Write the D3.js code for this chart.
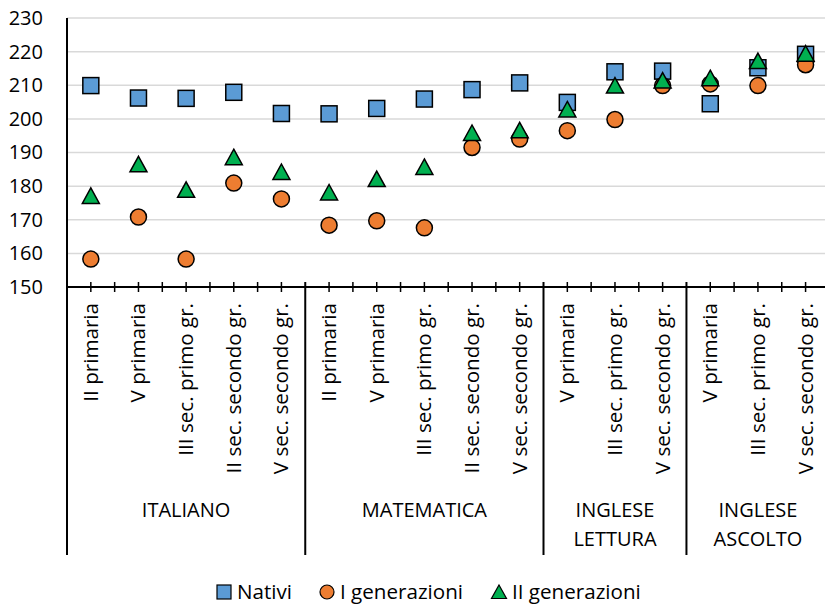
<!DOCTYPE html>
<html>
<head>
<meta charset="utf-8">
<script src="https://cdn.jsdelivr.net/npm/d3@7"></script>
<style>
  html, body { margin: 0; padding: 0; background: #fff; overflow: hidden; }
  svg { display: block; font-family: "Open Sans", Lato, sans-serif; }
</style>
</head>
<body>
<svg id="chart" width="825" height="604"></svg>
<script>
// Grades within each subject group
const categories = [
  "II primaria", "V primaria", "III sec. primo gr.", "II sec. secondo gr.", "V sec. secondo gr.",
  "II primaria", "V primaria", "III sec. primo gr.", "II sec. secondo gr.", "V sec. secondo gr.",
  "V primaria", "III sec. primo gr.", "V sec. secondo gr.",
  "V primaria", "III sec. primo gr.", "V sec. secondo gr."
];
// Subject groups: label lines and number of grades in each
const groupLabels = [["ITALIANO"], ["MATEMATICA"], ["INGLESE", "LETTURA"], ["INGLESE", "ASCOLTO"]];
const groupSizes = [5, 5, 3, 3];

// Average scores by student origin
const nativi = [209.9, 206.2, 206.1, 207.9, 201.6, 201.5, 203.1, 205.9, 208.7, 210.7, 204.9, 214.0, 214.2, 204.5, 215.2, 219.2];
const primaGen = [158.3, 170.8, 158.3, 180.9, 176.2, 168.4, 169.7, 167.6, 191.5, 194.0, 196.5, 199.8, 209.9, 210.4, 209.9, 216.1];
const secondaGen = [177.1, 186.5, 178.9, 188.6, 184.2, 178.1, 182.1, 185.7, 195.8, 196.6, 202.8, 209.9, 211.4, 212.1, 217.2, 219.4];

const yTicks = [150, 160, 170, 180, 190, 200, 210, 220, 230];
const seriesNames = ["Nativi", "I generazioni", "II generazioni"];
const seriesColors = ["#5B9BD5", "#ED7D31", "#00B050"];

const svg = d3.select("#chart");
const W = 825;
const FONT = "'Open Sans', Lato, sans-serif";
const plotLeft = 67, plotTop = 18, plotBottom = 287, catStep = 47.65;
const axisBottomEnd = 555;

const x = d3.scaleBand()
  .domain(d3.range(categories.length))
  .range([plotLeft, plotLeft + catStep * categories.length])
  .padding(0);
const y = d3.scaleLinear().domain([150, 230]).range([plotBottom, plotTop]);

// Horizontal gridlines
svg.append("g")
  .selectAll("line")
  .data(yTicks.filter(t => t > 150))
  .join("line")
  .attr("x1", plotLeft).attr("x2", W)
  .attr("y1", d => y(d)).attr("y2", d => y(d))
  .attr("stroke", "#d9d9d9").attr("stroke-width", 1.5);

// Y axis labels
const yAxis = svg.append("g")
  .attr("transform", `translate(${plotLeft},0)`)
  .call(d3.axisLeft(y).tickValues(yTicks).tickSize(0).tickPadding(24));
yAxis.select(".domain").remove();
yAxis.selectAll("text")
  .attr("font-size", 20).attr("fill", "#000")
  .style("font-family", FONT);

// Vertical axis line extended through category area
svg.append("line")
  .attr("x1", plotLeft).attr("x2", plotLeft)
  .attr("y1", plotTop).attr("y2", axisBottomEnd)
  .attr("stroke", "#000").attr("stroke-width", 2);

// Category axis baseline
svg.append("line")
  .attr("x1", plotLeft).attr("x2", W)
  .attr("y1", plotBottom).attr("y2", plotBottom)
  .attr("stroke", "#000").attr("stroke-width", 2);

// Group boundaries
const groupStarts = [];
let acc = 0;
groupSizes.forEach(n => { groupStarts.push(acc); acc += n; });
const boundaryIdx = new Set(groupStarts.slice(1));

// Minor tick marks between categories
svg.append("g")
  .selectAll("line")
  .data(d3.range(1, categories.length).filter(i => !boundaryIdx.has(i)))
  .join("line")
  .attr("x1", i => x(i)).attr("x2", i => x(i))
  .attr("y1", plotBottom - 5).attr("y2", plotBottom + 5)
  .attr("stroke", "#000").attr("stroke-width", 1.5);

// Tick marks at category centers
svg.append("g")
  .selectAll("line")
  .data(d3.range(categories.length))
  .join("line")
  .attr("x1", i => x(i) + x.bandwidth() / 2).attr("x2", i => x(i) + x.bandwidth() / 2)
  .attr("y1", plotBottom - 5).attr("y2", plotBottom + 5)
  .attr("stroke", "#000").attr("stroke-width", 1.5);

// Long separators between subject groups
svg.append("g")
  .selectAll("line")
  .data([...boundaryIdx])
  .join("line")
  .attr("x1", i => x(i)).attr("x2", i => x(i))
  .attr("y1", plotBottom - 5).attr("y2", axisBottomEnd)
  .attr("stroke", "#000").attr("stroke-width", 2);

// Rotated category labels
svg.append("g")
  .selectAll("text")
  .data(categories)
  .join("text")
  .attr("transform", (d, i) => `translate(${x(i) + x.bandwidth() / 2 + 7},303) rotate(-90)`)
  .attr("text-anchor", "end")
  .attr("font-size", 20.6)
  .attr("fill", "#000")
  .text(d => d);

// Subject group labels
const gl = svg.append("g")
  .selectAll("text")
  .data(groupLabels)
  .join("text")
  .attr("x", (d, i) => x(groupStarts[i]) + groupSizes[i] * catStep / 2)
  .attr("y", 517)
  .attr("text-anchor", "middle")
  .attr("font-size", 20)
  .attr("fill", "#000");
gl.selectAll("tspan")
  .data(d => d)
  .join("tspan")
  .attr("x", function () { return d3.select(this.parentNode).attr("x"); })
  .attr("dy", (d, i) => i === 0 ? 0 : 29)
  .text(d => d);

// Marker shapes
const trianglePath = "M0,-8L8.5,7.5L-8.5,7.5Z";
const cx = i => x(i) + x.bandwidth() / 2;

const marks = svg.append("g");
marks.append("g").selectAll("rect")
  .data(nativi)
  .join("rect")
  .attr("x", (d, i) => cx(i) - 8).attr("y", d => y(d) - 8)
  .attr("width", 16).attr("height", 16)
  .attr("fill", seriesColors[0]).attr("stroke", "#000").attr("stroke-width", 1.5);

marks.append("g").selectAll("circle")
  .data(primaGen)
  .join("circle")
  .attr("cx", (d, i) => cx(i)).attr("cy", d => y(d))
  .attr("r", 8)
  .attr("fill", seriesColors[1]).attr("stroke", "#000").attr("stroke-width", 1.5);

marks.append("g").selectAll("path")
  .data(secondaGen)
  .join("path")
  .attr("transform", (d, i) => `translate(${cx(i)},${y(d)})`)
  .attr("d", trianglePath)
  .attr("fill", seriesColors[2]).attr("stroke", "#000").attr("stroke-width", 1.5);

// Legend
const legendItems = [
  { name: seriesNames[0], x: 217 },
  { name: seriesNames[1], x: 320 },
  { name: seriesNames[2], x: 492 }
];
const lg = svg.append("g");
const ly = 592;
lg.append("rect").attr("x", legendItems[0].x).attr("y", ly - 7).attr("width", 14).attr("height", 14)
  .attr("fill", seriesColors[0]).attr("stroke", "#000").attr("stroke-width", 1.2);
lg.append("circle").attr("cx", legendItems[1].x + 7).attr("cy", ly).attr("r", 7)
  .attr("fill", seriesColors[1]).attr("stroke", "#000").attr("stroke-width", 1.2);
lg.append("path").attr("transform", `translate(${legendItems[2].x + 7},${ly})`)
  .attr("d", "M0,-7L7.5,6.5L-7.5,6.5Z")
  .attr("fill", seriesColors[2]).attr("stroke", "#000").attr("stroke-width", 1.2);
lg.selectAll("text")
  .data(legendItems)
  .join("text")
  .attr("x", d => d.x + 20).attr("y", ly + 7)
  .attr("font-size", 20.6).attr("fill", "#000")
  .text(d => d.name);
</script>
</body>
</html>
